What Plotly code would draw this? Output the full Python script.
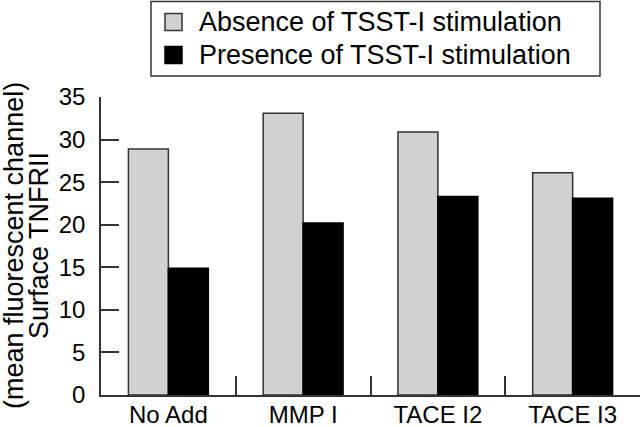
import plotly.graph_objects as go

categories = ["No Add", "MMP I", "TACE I2", "TACE I3"]
series_names = ["Absence of TSST-I stimulation", "Presence of TSST-I stimulation"]
absence_values = [28.9, 33.1, 30.9, 26.1]
presence_values = [14.9, 20.2, 23.3, 23.1]
y_ticks = [0, 5, 10, 15, 20, 25, 30, 35]
y_title_lines = ["(mean fluorescent channel)", "Surface TNFRII"]

W, H = 640, 427
L, R, T, B = 101, 0, 97, 32
PW, PH = W - L - R, H - T - B

GRAY = "#d1d2d0"
EDGE = "#333333"
FONT = "Liberation Sans, Arial, Helvetica, sans-serif"


def px(x):
    return (x - L) / PW


def py(y):
    return (H - B - y) / PH


fig = go.Figure()
fig.add_trace(go.Bar(x=categories, y=absence_values, name=series_names[0],
                     marker=dict(color=GRAY, line=dict(color=EDGE, width=1.5))))
fig.add_trace(go.Bar(x=categories, y=presence_values, name=series_names[1],
                     marker=dict(color="#000000", line=dict(color="#000000", width=1.5))))

shapes = [
    dict(type="rect", xref="paper", yref="paper", x0=px(151), x1=px(600), y0=py(1.5), y1=py(76),
         line=dict(color=EDGE, width=1.5), fillcolor="white", layer="above"),
    dict(type="rect", xref="paper", yref="paper", x0=px(165), x1=px(182), y0=py(13.5), y1=py(30.5),
         line=dict(color=EDGE, width=1.5), fillcolor=GRAY),
    dict(type="rect", xref="paper", yref="paper", x0=px(165), x1=px(182), y0=py(46.5), y1=py(63.5),
         line=dict(color="#000000", width=1.5), fillcolor="#000000"),
]
annotations = [
    dict(xref="paper", yref="paper", x=px(197), y=py(y), text=name, showarrow=False,
         xanchor="left", yanchor="middle", font=dict(family=FONT, size=27, color="black"))
    for name, y in zip(series_names, [22, 55])
]
annotations += [
    dict(xref="paper", yref="paper", x=px(x), y=py(246), text=t, showarrow=False, textangle=-90,
         xanchor="center", yanchor="middle", font=dict(family=FONT, size=27, color="black"))
    for t, x in zip(y_title_lines, [14, 39])
]

fig.update_layout(
    width=W, height=H,
    margin=dict(l=L, r=R, t=T, b=B, pad=0, autoexpand=False),
    paper_bgcolor="white", plot_bgcolor="white",
    barmode="group", bargap=0.407, bargroupgap=0,
    showlegend=False,
    font=dict(family=FONT, size=24, color="black"),
    shapes=shapes, annotations=annotations,
)
fig.update_xaxes(
    type="category", range=[-0.5, 3.5], tickson="boundaries", automargin=False,
    ticks="inside", ticklen=19, tickwidth=1.5, tickcolor=EDGE,
    showline=True, linecolor=EDGE, linewidth=1.5, showgrid=False, zeroline=False,
    tickfont=dict(size=24), ticklabelstandoff=-3,
)
fig.update_yaxes(
    range=[0, 35], tickvals=y_ticks, automargin=False,
    ticks="inside", ticklen=18, tickwidth=1.5, tickcolor=EDGE,
    showline=True, linecolor=EDGE, linewidth=1.5, showgrid=False, zeroline=False,
    tickfont=dict(size=24), ticklabelstandoff=9,
)

fig.write_html("out.html", config={"displayModeBar": False},
               post_script="document.body.style.margin='0';")
